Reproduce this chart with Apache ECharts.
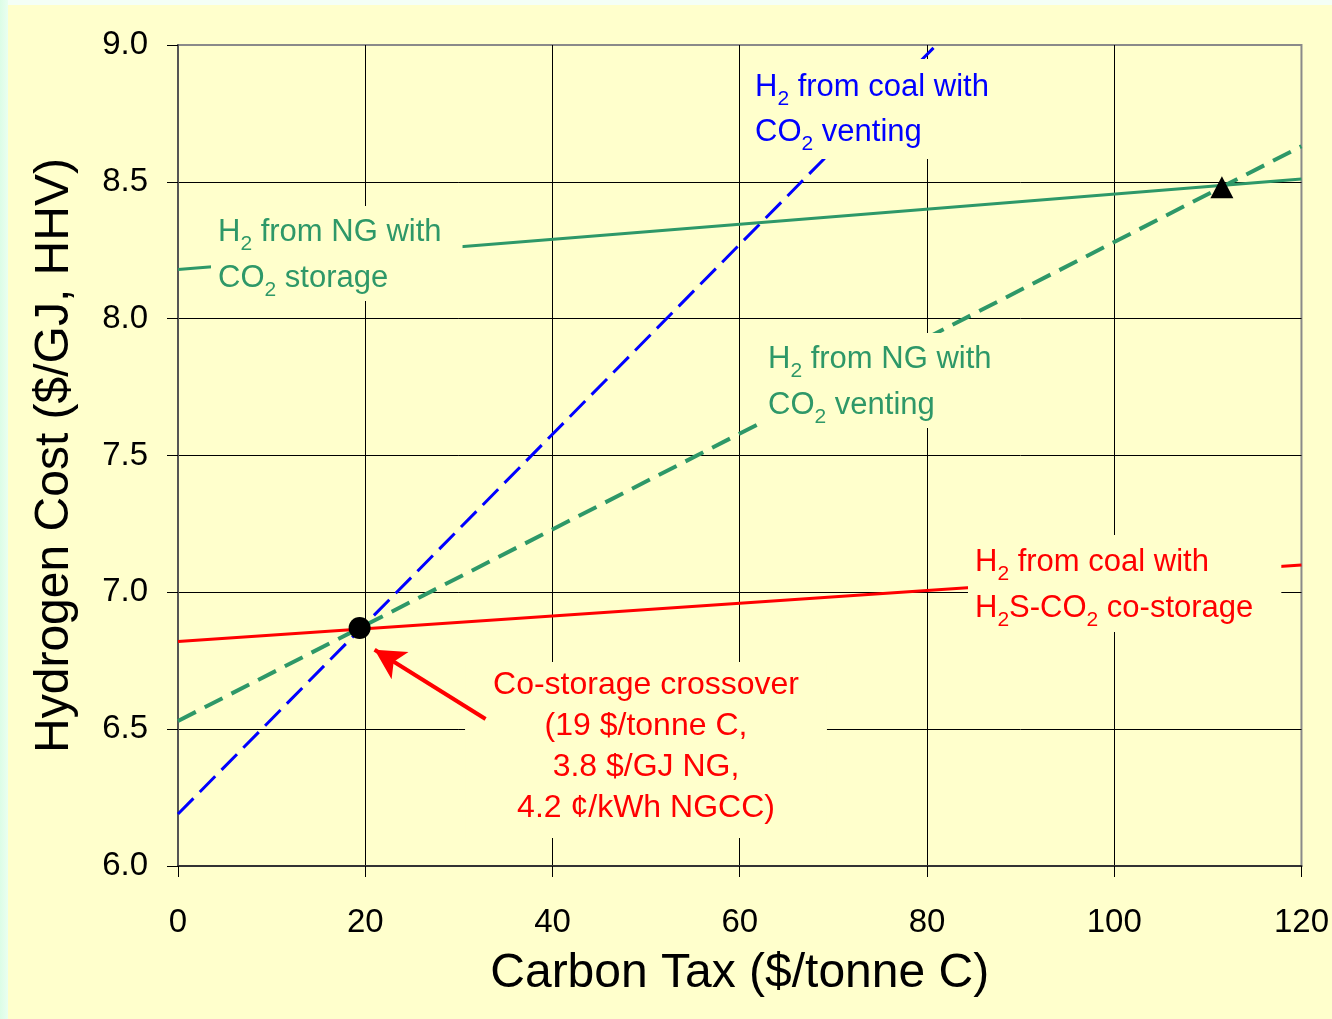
<!DOCTYPE html>
<html>
<head>
<meta charset="utf-8">
<script src="https://cdn.jsdelivr.net/npm/echarts@6/dist/echarts.min.js"></script>
<style>
  html, body { margin: 0; padding: 0; }
  body { width: 1332px; height: 1019px; position: relative; overflow: hidden;
         background: linear-gradient(to right, #dcfde6 0px, #eafff0 8px, #f4fff6 8px); }
  #bg { position: absolute; left: 8px; top: 5px; width: 1324px; height: 1014px; background: #FFFFCC; }
  #chart { position: absolute; left: 0; top: 0; width: 1332px; height: 1019px; }
</style>
</head>
<body>
<div id="bg"></div>
<div id="chart"></div>
<script>
// ---- data ----
const xTicks = [0, 20, 40, 60, 80, 100, 120];
const yTicks = [6.0, 6.5, 7.0, 7.5, 8.0, 8.5, 9.0];
// line endpoints: [carbon tax, hydrogen cost]
const coalVenting   = [[0, 6.19], [81, 9.0]];
const ngVenting     = [[0, 6.53], [120, 8.63]];
const ngStorage     = [[0, 8.18], [120, 8.51]];
const coalCoStorage = [[0, 6.82], [120, 7.10]];
const crossoverPoint = [[19.4, 6.87]];
const ngBreakeven    = [[111.5, 8.48]];
const arrowFrom = [32.85, 6.537];
const arrowTo   = [21.0, 6.79];

const FONT = '"Liberation Sans", Arial, sans-serif';
const BLUE = '#0000FF', GREEN = '#2E9868', RED = '#FF0000', BG = '#FFFFCC';

function rich(size, lh) {
  return {
    a: { fontSize: size, lineHeight: lh, fontFamily: FONT },
    s: { fontSize: 21, lineHeight: 30, fontFamily: FONT, verticalAlign: 'bottom' }
  };
}
function textBox(x, y, text, color, pad, size, lh, align, z) {
  return {
    type: 'text', x: x, y: y, z: z || 5,
    style: {
      text: text, rich: rich(size, lh), fill: color,
      font: size + 'px ' + FONT,
      align: align || 'left', verticalAlign: 'top',
      backgroundColor: BG, padding: pad
    }
  };
}

const chart = echarts.init(document.getElementById('chart'), null, { renderer: 'canvas' });
chart.setOption({
  backgroundColor: 'transparent',
  animation: false,
  grid: { left: 178, top: 45, right: 29, bottom: 153, show: true,
          borderColor: '#8a8a8a', borderWidth: 2, backgroundColor: 'transparent' },
  xAxis: {
    type: 'value', min: 0, max: 120, interval: 20,
    name: 'Carbon Tax ($/tonne C)', nameLocation: 'middle', nameGap: 84,
    nameTextStyle: { fontSize: 48, color: '#000', fontFamily: FONT },
    axisLine: { show: true, onZero: false, lineStyle: { color: '#333', width: 2 } },
    axisTick: { show: true, length: 11, lineStyle: { color: '#000', width: 1 } },
    axisLabel: { fontSize: 33, color: '#000', fontFamily: FONT, margin: 40,
                 formatter: v => xTicks.includes(v) ? String(v) : '' },
    splitLine: { show: true, showMinLine: false, showMaxLine: false, lineStyle: { color: '#000', width: 1 } }
  },
  yAxis: {
    type: 'value', min: 6.0, max: 9.0, interval: 0.5,
    name: 'Hydrogen Cost ($/GJ, HHV)', nameLocation: 'middle', nameGap: 99, nameRotate: 90,
    nameTextStyle: { fontSize: 48, color: '#000', fontFamily: FONT },
    axisLine: { show: true, onZero: false, lineStyle: { color: '#555', width: 2 } },
    axisTick: { show: true, length: 11, lineStyle: { color: '#000', width: 1 } },
    axisLabel: { fontSize: 33, color: '#000', fontFamily: FONT, margin: 30,
                 formatter: v => yTicks.some(t => Math.abs(t - v) < 1e-9) ? v.toFixed(1) : '' },
    splitLine: { show: true, showMinLine: false, showMaxLine: false, lineStyle: { color: '#000', width: 1 } }
  },
  series: [
    { name: 'H2 from coal with CO2 venting', type: 'line', data: coalVenting, symbol: 'none', z: 2,
      lineStyle: { color: BLUE, width: 3, type: [22, 9] } },
    { name: 'H2 from NG with CO2 venting', type: 'line', data: ngVenting, symbol: 'none', z: 2,
      lineStyle: { color: GREEN, width: 4, type: [20, 10] } },
    { name: 'H2 from NG with CO2 storage', type: 'line', data: ngStorage, symbol: 'none', z: 2,
      lineStyle: { color: GREEN, width: 3 } },
    { name: 'H2 from coal with H2S-CO2 co-storage', type: 'line', data: coalCoStorage, symbol: 'none', z: 2,
      lineStyle: { color: RED, width: 3 } },
    { name: 'crossover', type: 'scatter', data: crossoverPoint, symbol: 'circle', symbolSize: 22, z: 4,
      itemStyle: { color: '#000', opacity: 1 } },
    { name: 'breakeven', type: 'scatter', data: ngBreakeven, symbol: 'triangle', symbolSize: [23, 22], z: 4,
      itemStyle: { color: '#000', opacity: 1 } },
    { name: 'arrow', type: 'line', data: [], z: 10,
      markLine: {
        silent: true, symbol: ['none', 'arrow'], symbolSize: [24, 30],
        label: { show: false },
        lineStyle: { color: RED, width: 4, type: 'solid' },
        data: [[{ coord: arrowFrom }, { coord: arrowTo }]]
      } }
  ],
  graphic: { elements: [
    textBox(748, 59, '{a|H}{s|2}{a| from coal with}\n{a|CO}{s|2}{a| venting}', BLUE, [6, 3, 4, 7], 31, 45),
    textBox(211, 206, '{a|H}{s|2}{a| from NG with}\n{a|CO}{s|2}{a| storage}', GREEN, [3, 21, 0, 7], 31, 46),
    textBox(762, 333, '{a|H}{s|2}{a| from NG with}\n{a|CO}{s|2}{a| venting}', GREEN, [3, 4, 0, 6], 31, 46),
    textBox(968, 535, '{a|H}{s|2}{a| from coal with}\n{a|H}{s|2}{a|S-CO}{s|2}{a| co-storage}', RED, [4, 28, 1, 7], 31, 46),
    textBox(646, 662, '{a|Co-storage crossover}\n{a|(19 $/tonne C,}\n{a|3.8 $/GJ NG,}\n{a|4.2 ¢/kWh NGCC)}', RED, [3, 28, 9, 28], 32, 41, 'center')
  ] }
});
</script>
</body>
</html>
